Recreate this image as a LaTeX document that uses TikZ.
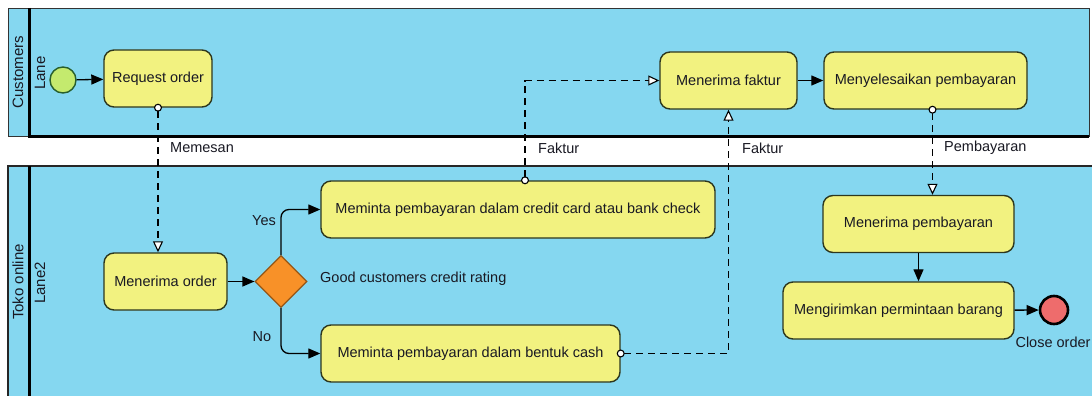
\documentclass[tikz,border=0pt]{standalone}
\usepackage{fontspec}
\setmainfont{Liberation Sans}
\usetikzlibrary{arrows.meta,shapes.geometric}
\definecolor{poolblue}{RGB}{133,215,240}
\definecolor{taskfill}{RGB}{242,242,128}
\definecolor{taskline}{RGB}{45,55,30}
\definecolor{startfill}{RGB}{196,234,110}
\definecolor{startline}{RGB}{40,95,45}
\definecolor{endfill}{RGB}{238,108,108}
\definecolor{gatefill}{RGB}{248,145,40}
\definecolor{gateline}{RGB}{150,85,20}
\definecolor{inkcol}{RGB}{25,25,35}
\begin{document}
\begin{tikzpicture}[x=1pt,y=-1pt,
  every node/.style={font=\fontsize{14.5}{16}\selectfont, text=inkcol},
  task/.style={draw=taskline, line width=1.4pt, fill=taskfill, rounded corners=10pt,
    inner sep=0pt, minimum height=57pt},
  flow/.style={draw=black, line width=1.3pt, -{Triangle[length=12pt,width=10pt]}},
  msg/.style={draw=black, line width=1.1pt, dash pattern=on 7pt off 5pt,
    shorten <=-4pt,
    {Circle[length=8pt,fill=white,line width=1.1pt]}-{Triangle[length=11pt,width=10pt,fill=white,line width=1.1pt]}},
  lbl/.style={anchor=west, inner sep=0pt},
  poollbl/.style={rotate=90, inner sep=0pt, font=\fontsize{15}{16}\selectfont}
]
\useasboundingbox (0,0) rectangle (1092,396);
\fill[white] (0,0) rectangle (1092,396);

% upper pool: Customers
\fill[poolblue] (8,8) rectangle (1089,136);
\draw[line width=0.8pt, draw=black!80] (8,8) rectangle (1089,136);
\draw[line width=3pt] (29,8) -- (29,136) -- (1089,136);
% lower pool: Toko online
\fill[poolblue] (8,166) rectangle (1100,400);
\draw[line width=1.5pt, draw=black!85] (8,400) -- (8,166) -- (1100,166);
\draw[line width=3pt] (29,166) -- (29,400);

\node[poollbl] (poolA) at (18,72) {Customers};
\node[poollbl] (laneA) at (40,73) {Lane};
\node[poollbl] (poolB) at (18,282) {Toko online};
\node[poollbl] (laneB) at (40,283) {Lane2};

% events and gateway
\node[circle, draw=startline, line width=1.4pt, fill=startfill, minimum size=26pt, inner sep=0pt] (start) at (63,80) {};
\node[circle, draw=black, line width=2.6pt, fill=endfill, minimum size=28pt, inner sep=0pt] (stop) at (1054,310) {};
\node[diamond, aspect=1, draw=gateline, line width=1.2pt, fill=gatefill, minimum size=52pt, inner sep=0pt] (gate) at (281,281.5) {};

% tasks
\node[task, minimum width=108pt] (req) at (158,78.5) {Request order};
\node[task, minimum width=123pt] (mord) at (165.5,281.5) {Menerima order};
\node[task, minimum width=394pt] (card) at (518,209.5) {Meminta pembayaran dalam credit card atau bank check};
\node[task, minimum width=299pt] (cash) at (470.5,353.5) {Meminta pembayaran dalam bentuk cash};
\node[task, minimum width=137pt] (mfak) at (728.5,80.5) {Menerima faktur};
\node[task, minimum width=203pt] (sele) at (925.5,80.5) {Menyelesaikan pembayaran};
\node[task, minimum width=191pt] (mbay) at (918.5,224) {Menerima pembayaran};
\node[task, minimum width=231pt] (kirim) at (898.5,310.5) {Mengirimkan permintaan barang};

% labels
\node[lbl] (lmemesan) at (170,148) {Memesan};
\node[lbl] (lfak1) at (538,148) {Faktur};
\node[lbl] (lfak2) at (742,148) {Faktur};
\node[lbl] (lbayar) at (944,148) {Pembayaran};
\node[inner sep=0pt] (lyes) at (264,221) {Yes};
\node[inner sep=0pt] (lno) at (262,337) {No};
\node[lbl] (lgate) at (320,279) {Good customers credit rating};
\node[inner sep=0pt] (lclose) at (1053,342) {Close order};

% sequence flows
\draw[flow] (start) -- (req);
\draw[flow] (mord) -- (gate);
\draw[flow, rounded corners=8pt] (gate.north) |- (card.west);
\draw[flow, rounded corners=8pt] (gate.south) |- (cash.west);
\draw[flow] (mfak) -- (sele);
\draw[flow] (mbay.south) -- (mbay.south |- kirim.north);
\draw[flow] (kirim) -- (stop);

% message flows
\draw[msg] (req.south) -- (req.south |- mord.north);
\draw[msg] ([xshift=7pt]card.north) |- (mfak.west);
\draw[msg] (cash.east) -| (mfak.south);
\draw[msg] ([xshift=7pt]sele.south) -- ([xshift=7pt]sele.south |- mbay.north);
\end{tikzpicture}
\end{document}
